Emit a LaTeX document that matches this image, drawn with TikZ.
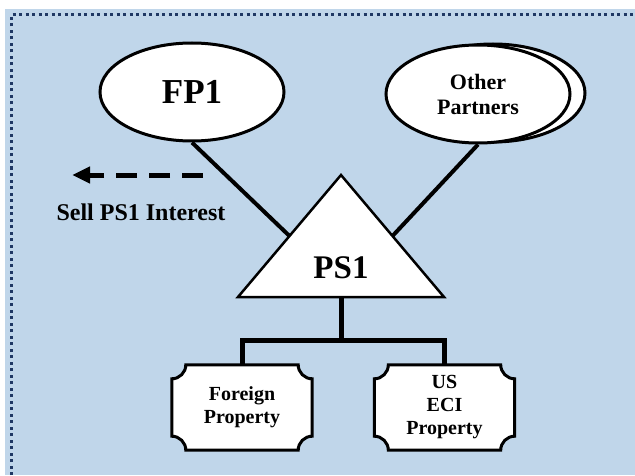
\documentclass[tikz,border=0pt]{standalone}
\usepackage{fontspec}
\setmainfont{Liberation Serif}
\usetikzlibrary{shapes.geometric,arrows.meta,calc}
\definecolor{panelblue}{RGB}{192,214,234}
\definecolor{navy}{RGB}{31,56,100}
\pgfdeclarelayer{panel}
\pgfdeclarelayer{lines}
\pgfsetlayers{panel,lines,main}
\begin{document}
\begin{tikzpicture}[x=1pt,y=1pt,
  oval/.style={ellipse,draw,line width=3pt,fill=white,minimum width=184pt,minimum height=98pt,inner sep=0pt,align=center},
  conn/.style={line width=4pt},
  tree/.style={line width=5pt,line join=miter},
  plaquetext/.style={minimum width=140pt,minimum height=85pt,inner sep=0pt,align=center,font=\bfseries\fontsize{20}{23}\selectfont},
  plaque/.style={draw,line width=3pt,fill=white}
]
\useasboundingbox (0,0) rectangle (635,475);
\begin{pgfonlayer}{panel}
\fill[panelblue] (5,0) rectangle (635,466);
\draw[navy,line width=3pt,dash pattern=on 3pt off 3.5pt] (11,0) -- (11,460) -- (635,460);
\end{pgfonlayer}

% ellipses
\node[oval,font=\bfseries\fontsize{35}{38}\selectfont] (fp1) at (192,383) {FP1};
\node[oval] (opb) at (493,382) {};
\node[oval,font=\bfseries\fontsize{22}{25}\selectfont] (op) at (478,381) {Other\\Partners};

% triangle
\coordinate (apex) at (341,300);
\coordinate (bl) at (238,178);
\coordinate (br) at (444,178);
\coordinate (lm) at ($(apex)!0.5!(bl)$);
\coordinate (rm) at ($(apex)!0.5!(br)$);
\coordinate (bm) at ($(bl)!0.5!(br)$);
\draw[line width=2.5pt,fill=white,line join=miter] (apex) -- (bl) -- (br) -- cycle;
\node[font=\bfseries\fontsize{33}{36}\selectfont] (ps1) at (341,207) {PS1};

\begin{pgfonlayer}{lines}
\draw[conn] (fp1.south) -- (lm);
\draw[conn] (op.south) -- (rm);
\end{pgfonlayer}

% sell arrow
\coordinate (as) at (203,300);
\coordinate (ae) at (72,300);
\draw[line width=5pt,dash pattern=on 21pt off 12pt,-{Triangle[length=18pt,width=16pt]}] (as) -- (ae);
\node[font=\bfseries\fontsize{24}{26}\selectfont] (sell) at (141,263) {Sell PS1 Interest};

% property boxes
\node[plaquetext] (b1) at (242,67.5) {Foreign\\Property};
\node[plaquetext] (b2) at (444.5,67.5) {US\\ECI\\Property};
\begin{pgfonlayer}{lines}
\foreach \b in {b1,b2}{
\draw[plaque] ([xshift=14pt]\b.north west) -- ([xshift=-14pt]\b.north east)
  arc[start angle=180,end angle=270,radius=14pt]
  -- ([yshift=14pt]\b.south east)
  arc[start angle=90,end angle=180,radius=14pt]
  -- ([xshift=14pt]\b.south west)
  arc[start angle=0,end angle=90,radius=14pt]
  -- ([yshift=-14pt]\b.north west)
  arc[start angle=270,end angle=360,radius=14pt] -- cycle;
}
\coordinate (j) at (341,135);
\draw[tree] (bm) -- (j);
\draw[tree] (b1.north) |- (j) -| (b2.north);
\end{pgfonlayer}
\end{tikzpicture}
\end{document}
